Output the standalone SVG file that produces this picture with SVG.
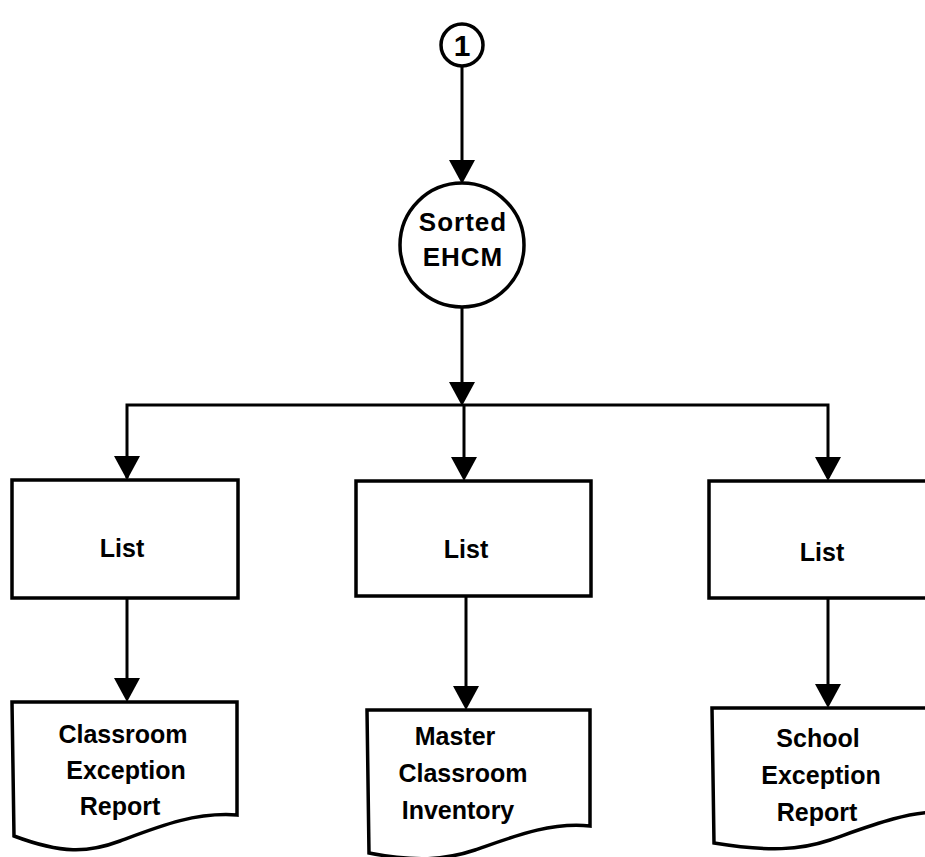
<svg xmlns="http://www.w3.org/2000/svg" width="925" height="857" viewBox="0 0 925 857">
  <style>
    .shape { fill: #ffffff; stroke: #000000; stroke-width: 3.5; stroke-linejoin: miter; }
    .wire { fill: none; stroke: #000000; stroke-width: 3; }
    .label { font-family: "Liberation Sans", "DejaVu Sans", sans-serif; font-weight: bold; font-size: 25px; fill: #000000; text-anchor: middle; }
    .big { font-size: 26px; letter-spacing: 1px; }
  </style>
  <defs>
    <!-- solid arrowhead, tip at the origin pointing down -->
    <polygon id="head" points="-13,-24 13,-24 0,0" fill="#000000"/>
  </defs>

  <!-- connectors -->
  <g id="connectors">
    <line class="wire" x1="462" y1="67" x2="462" y2="170"/>
    <use href="#head" x="462" y="184"/>
    <line class="wire" x1="462" y1="307" x2="462" y2="392"/>
    <use href="#head" x="462" y="406"/>
    <polyline class="wire" points="127,478 127,405 828,405 828,478"/>
    <line class="wire" x1="464" y1="405" x2="464" y2="470"/>
    <use href="#head" x="127" y="480"/>
    <use href="#head" x="464" y="481"/>
    <use href="#head" x="828" y="481"/>
    <line class="wire" x1="127" y1="598" x2="127" y2="690"/>
    <use href="#head" x="127" y="702"/>
    <line class="wire" x1="466" y1="596" x2="466" y2="698"/>
    <use href="#head" x="466" y="710"/>
    <line class="wire" x1="828" y1="598" x2="828" y2="696"/>
    <use href="#head" x="828" y="708"/>
  </g>

  <!-- off-page connector -->
  <g id="node-1">
    <circle class="shape" cx="462" cy="45" r="21"/>
    <text class="label" x="462" y="56" style="font-size:30px">1</text>
  </g>

  <!-- sorted file -->
  <g id="node-sorted-ehcm">
    <circle class="shape" cx="462" cy="245" r="62"/>
    <text class="label big" x="463" y="231">Sorted</text>
    <text class="label big" x="463" y="266">EHCM</text>
  </g>

  <!-- processes -->
  <g id="node-list-left">
    <rect class="shape" x="12" y="480" width="226" height="118"/>
    <text class="label" x="122" y="557">List</text>
  </g>
  <g id="node-list-middle">
    <rect class="shape" x="356" y="481" width="235" height="115"/>
    <text class="label" x="466" y="558">List</text>
  </g>
  <g id="node-list-right">
    <rect class="shape" x="709" y="481" width="230" height="117"/>
    <text class="label" x="822" y="561">List</text>
  </g>

  <!-- reports -->
  <g id="node-classroom-exception-report">
    <path class="shape" d="M12,702 H237 V815 C195,812 160,826 120,841 C88,853 62,854 14,836 Z"/>
    <text class="label" x="123" y="743">Classroom</text>
    <text class="label" x="126" y="779">Exception</text>
    <text class="label" x="120" y="815">Report</text>
  </g>
  <g id="node-master-classroom-inventory">
    <path class="shape" d="M367,710 H590 V826 C550,822 515,836 475,850 C445,860 415,862 369,853 Z"/>
    <text class="label" x="455" y="745">Master</text>
    <text class="label" x="463" y="782">Classroom</text>
    <text class="label" x="458" y="819">Inventory</text>
  </g>
  <g id="node-school-exception-report">
    <path class="shape" d="M712,708 H940 V812 C905,812 870,826 830,840 C800,850 770,852 714,843 Z"/>
    <text class="label" x="818" y="747">School</text>
    <text class="label" x="821" y="784">Exception</text>
    <text class="label" x="817" y="821">Report</text>
  </g>
</svg>
